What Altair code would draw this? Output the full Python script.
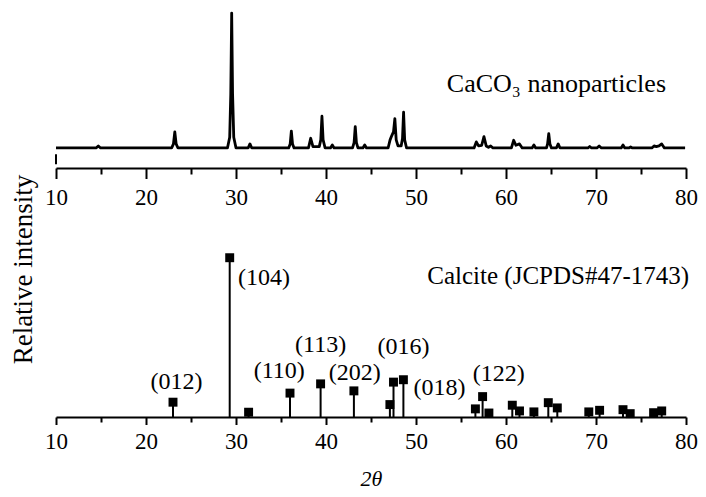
import altair as alt
import pandas as pd

# ---- measured pattern of the CaCO3 nanoparticles (2theta, relative intensity, main peak = 100)
XRD_2THETA = [10.0, 14.45, 14.7, 14.95, 22.85, 23.05, 23.2, 23.35, 23.55,
              29.05, 29.3, 29.42, 29.52, 29.62, 29.75, 30.0, 31.35, 31.55, 31.75,
              35.85, 36.02, 36.15, 36.28, 36.45, 38.05, 38.3, 38.55, 39.25, 39.42,
              39.55, 39.68, 39.9, 40.5, 40.7, 40.9, 42.95, 43.12, 43.25, 43.38,
              43.55, 44.1, 44.3, 44.5, 46.9, 47.12, 47.3, 47.5, 47.65, 47.8,
              48.0, 48.35, 48.5, 48.62, 48.74, 48.95, 56.45, 56.7, 56.95, 57.3,
              57.55, 57.8, 58.05, 58.3, 58.55, 60.6, 60.85, 61.1, 61.5, 61.8,
              62.9, 63.1, 63.3, 64.5, 64.62, 64.75, 64.88, 65.05, 65.6, 65.8,
              66.0, 69.1, 69.3, 69.5, 70.1, 70.35, 70.6, 72.8, 73.0, 73.2,
              73.65, 73.85, 74.05, 76.2, 76.45, 76.7, 77.0, 77.3, 77.6, 79.9]
XRD_INT = [0, 0, 1.5, 0, 0, 3, 11.9, 3, 0,
           0, 8, 40, 100, 40, 8, 0, 0, 3, 0,
           0, 3, 12.4, 3, 0, 0, 7.2, 1, 1, 6,
           23.5, 6, 0, 0, 2.2, 0, 0, 4, 15.8, 4,
           0, 0, 2.2, 0, 0, 6, 9, 12, 21.8, 6,
           1.5, 1.5, 7, 26.5, 6, 0, 0, 4.5, 1.5, 2,
           8.4, 1.5, 0.5, 1.5, 0, 0, 5.7, 2, 3, 0,
           0, 2.2, 0, 0, 3, 10.6, 3, 0, 0, 3,
           0, 0, 1.1, 0, 0, 1.5, 0, 0, 2.2, 0,
           0, 0.7, 0, 0, 1.5, 1.0, 1.5, 3, 0, 0]
assert len(XRD_2THETA) == len(XRD_INT)

# short vertical stub at the left end of the upper pattern
STUB_X = [10]
STUB_Y = [-4.7]
STUB_Y2 = [-12.1]

# ---- calcite reference lines (JCPDS#47-1743)
REF_2THETA = [23.0, 29.3, 31.4, 36.0, 39.4, 43.1, 47.1, 47.5, 48.6, 56.6, 57.4, 58.1,
              60.7, 61.5, 63.1, 64.7, 65.7, 69.2, 70.4, 73.0, 73.8, 76.4, 77.3]
REF_INT = [9.3, 100, 3.0, 15, 20.8, 16.4, 7.8, 21.9, 23.4, 5.1, 12.8, 2.5,
           7.4, 3.8, 3.2, 9.0, 5.7, 3.2, 4.2, 4.6, 2.1, 2.7, 3.8]

HKL_TEXT = ["(012)", "(104)", "(110)", "(113)", "(202)", "(016)", "(018)", "(122)"]
HKL_X = [23.4, 33.1, 34.8, 39.4, 43.2, 48.6, 52.6, 59.2]
HKL_Y = [22.2, 87.4, 28.9, 45.0, 27.8, 43.9, 18.4, 26.8]

TOP_NOTE = ["CaCO\u2083 nanoparticles"]
TOP_NOTE_X = [65.6]
TOP_NOTE_Y = [47.5]
BOT_NOTE = ["Calcite (JCPDS#47-1743)"]
BOT_NOTE_X = [65.8]
BOT_NOTE_Y = [88.5]

X_TICKS = list(range(10, 81, 5))

FONT = "Liberation Serif"

df_xrd = pd.DataFrame({"t": XRD_2THETA, "i": XRD_INT})
df_stub = pd.DataFrame({"x": STUB_X, "y": STUB_Y, "y2": STUB_Y2})
df_ref = pd.DataFrame({"t": REF_2THETA, "i": REF_INT, "base": [0] * len(REF_INT)})
df_hkl = pd.DataFrame({"x": HKL_X, "y": HKL_Y, "txt": HKL_TEXT})
df_top_note = pd.DataFrame({"x": TOP_NOTE_X, "y": TOP_NOTE_Y, "txt": TOP_NOTE})
df_bot_note = pd.DataFrame({"x": BOT_NOTE_X, "y": BOT_NOTE_Y, "txt": BOT_NOTE})

x_scale = alt.Scale(domain=[10, 80], nice=False, zero=False)
y_top = alt.Scale(domain=[-14.85, 103.0], nice=False, zero=False)
y_bot = alt.Scale(domain=[0, 110.5], nice=False, zero=False)


def x_axis(major, minor, pad, title, **kw):
    return alt.Axis(
        values=X_TICKS,
        labelExpr="datum.value % 10 === 0 ? datum.label : ''",
        tickSize={"condition": {"test": "datum.value % 10 === 0", "value": major}, "value": minor},
        tickWidth=2, tickColor="black",
        domainWidth=2, domainColor="black",
        labelFont=FONT, labelFontSize=23, labelColor="black", labelPadding=pad,
        labelOverlap=False, labelFlush=False, grid=False,
        title=title,
        **kw,
    )


# ---------------- top panel
top_line = alt.Chart(df_xrd).mark_line(color="black", strokeWidth=2.8, strokeJoin="round").encode(
    x=alt.X("t:Q", scale=x_scale, axis=x_axis(10.5, 6, 8, None)),
    y=alt.Y("i:Q", scale=y_top, axis=None),
)
top_stub = alt.Chart(df_stub).mark_rule(color="black", strokeWidth=2).encode(
    x=alt.X("x:Q", scale=x_scale), y=alt.Y("y:Q", scale=y_top), y2="y2:Q"
)
top_text = alt.Chart(df_top_note).mark_text(
    font=FONT, fontSize=26, color="black", align="center", baseline="middle"
).encode(x=alt.X("x:Q", scale=x_scale), y=alt.Y("y:Q", scale=y_top), text="txt:N")

top = alt.layer(top_line, top_stub, top_text).properties(width=630, height=159)

# ---------------- bottom panel
stems = alt.Chart(df_ref).mark_rule(color="black", strokeWidth=2).encode(
    x=alt.X("t:Q", scale=x_scale,
            axis=x_axis(7.5, 5, 6, "2\u03b8", titleFont=FONT, titleFontSize=22,
                        titleFontStyle="italic", titleFontWeight="normal", titleColor="black",
                        titleY=61, titleBaseline="middle")),
    y=alt.Y("i:Q", scale=y_bot,
            axis=alt.Axis(title="Relative intensity", domain=False, ticks=False, labels=False,
                          grid=False, titleFont=FONT, titleFontSize=27, titleFontWeight="normal",
                          titleColor="black", titleX=-33, titleY=28, titleBaseline="middle")),
    y2="base:Q",
)
squares = alt.Chart(df_ref).mark_square(color="black", size=80, opacity=1).encode(
    x=alt.X("t:Q", scale=x_scale), y=alt.Y("i:Q", scale=y_bot)
)
hkl = alt.Chart(df_hkl).mark_text(
    font=FONT, fontSize=24, color="black", align="center", baseline="middle"
).encode(x=alt.X("x:Q", scale=x_scale), y=alt.Y("y:Q", scale=y_bot), text="txt:N")
bot_note = alt.Chart(df_bot_note).mark_text(
    font=FONT, fontSize=25, color="black", align="center", baseline="middle"
).encode(x=alt.X("x:Q", scale=x_scale), y=alt.Y("y:Q", scale=y_bot), text="txt:N")

bottom = alt.layer(stems, squares, hkl, bot_note).properties(width=630, height=176)

chart = alt.vconcat(top, bottom, spacing=73, bounds="flush").properties(
    padding={"left": 0, "top": 0, "right": 0, "bottom": 0},
    background="white",
).configure_view(stroke="transparent")

chart.save("out.html", embed_options={"renderer": "svg", "actions": False})
